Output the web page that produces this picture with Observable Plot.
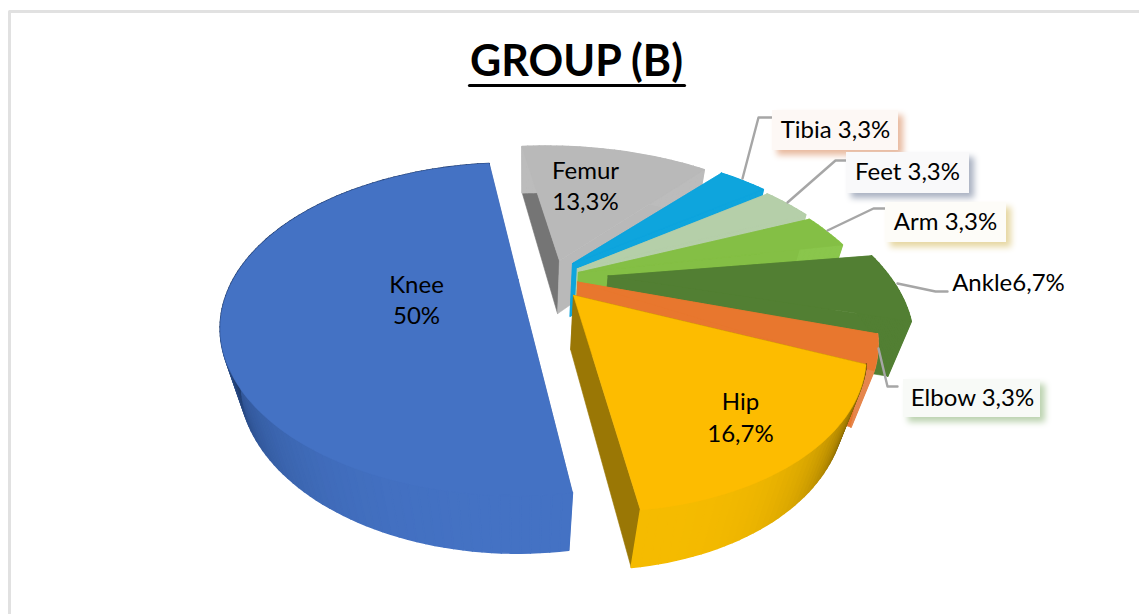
<!DOCTYPE html>
<html><head><meta charset="utf-8">
<script src="https://cdn.jsdelivr.net/npm/d3@7"></script>
<script src="https://cdn.jsdelivr.net/npm/@observablehq/plot@0.6"></script>
<style>html,body{margin:0;background:#fff}svg{display:block}</style></head>
<body><div id="chart"></div>
<script>
// ---- data ----
const categories = ["Knee","Femur","Tibia","Feet","Arm","Ankle","Elbow","Hip"];
const shares = [50,13.3,3.3,3.3,3.3,6.7,3.3,16.7];
const shareLabels = ["50%","13,3%","3,3%","3,3%","3,3%","6,7%","3,3%","16,7%"];
const chartTitle = "GROUP (B)";

// ---- layout / style (not data) ----
const startAngle = 172.012;
const explodeX = [-.1038,.0419,.0875,.1027,.1052,.2069,.0998,.0810];
const explodeY = [-.0025,.1256,.1076,.0723,.0480,.0270,-.0141,-.0957];
const radius   = [.9651,1.0280,1.0310,1.0199,1.0141,.9829,.9648,.9218];
const twist    = [-.35,.07,1.62,1.57,2.25,5.21,7.21,.92];
const cam = {a:294.52,b:161.92,c:-31.948,d:547.96,e:3.8665,f:-71.012,j:-74.08,k:279.11,g:.0045264,h:.3076,i:-.060813};
const topColor = ["#4472c4","#b9b9b9","#0ea5dd","#b5cfa9","#84bf45","#527f33","#e8772e","#fdbc00"];
const sideColor= ["#4472c4","#bcbcbc","#0ea5dd","#b5cfa9","#8ac64c","#527f33","#e6864c","#f3b700"];
const leftColor= ["#3a62a8","#757575","#0ea5dd","#b5cfa9","#84bf45","#527f33","#e8772e","#9a7705"];
const plainLabels = [
 {i:0,x:416,y:[285,316]},
 {i:1,x:585,y:[171,202]},
 {i:7,x:740,y:[402,434]}];
const boxes = [
 {i:2,x1:772,x2:898,y1:110,y2:150,fill:"#fdf8f5",shadow:"#e8b99e",tx:835,ty:130,sep:" ",lead:[[742,178],[758,117],[771,117]]},
 {i:3,x1:846,x2:969,y1:152,y2:193,fill:"#f9f9fa",shadow:"#aab2c2",tx:907,ty:172,sep:" ",lead:[[787,202],[835,160],[846,160]]},
 {i:4,x1:885,x2:1006,y1:202,y2:242,fill:"#fdfcf8",shadow:"#e6d7a2",tx:945,ty:222,sep:" ",lead:[[827,230],[873,208],[885,208]]},
 {i:5,x1:null,tx:1008,ty:283,sep:"",lead:[[897,283],[935,291],[947,291]]},
 {i:6,x1:903,x2:1040,y1:379,y2:417,fill:"#f8faf7",shadow:"#bcd3b0",tx:972,ty:398,sep:" ",lead:[[878,348],[887,386],[897,386]]}];
const font = "Lato, 'Open Sans', sans-serif";

// ---- geometry: values -> angles -> projected polygons ----
const pie = d3.pie().sort(null).startAngle(startAngle*Math.PI/180).endAngle((startAngle+360)*Math.PI/180)(shares);
const proj=(X,Y,Z)=>{const w=cam.g*X+cam.h*Y+cam.i*Z+1;return {x:(cam.a*X+cam.b*Y+cam.c*Z+cam.d)/w,y:(cam.e*X+cam.f*Y+cam.j*Z+cam.k)/w}};
const geom = pie.map((s,i)=>{
  const ox=explodeX[i], oy=explodeY[i], r=radius[i], tw=twist[i]*Math.PI/180;
  const P=(th,Z)=>proj(ox+r*Math.sin(th+tw),oy+r*Math.cos(th+tw),Z);
  const n=Math.max(6,Math.round((s.endAngle-s.startAngle)*180/Math.PI/1.5));
  const ths=d3.range(n+1).map(k=>s.startAngle+(s.endAngle-s.startAngle)*k/n);
  return {i,apexT:proj(ox,oy,0),apexB:proj(ox,oy,-1),P,ths,n};
});
const poly=(pts,fill,sw=.6)=>Plot.line([...pts,pts[0]],{x:"x",y:"y",fill,stroke:fill,strokeWidth:sw,curve:"linear"});
function sliceMarks(g){
  const {i,P,ths,n,apexT,apexB}=g, marks=[];
  const a0=ths[0],a1=ths[n];
  marks.push(poly([apexT,P(a0,0),P(a0,-1),apexB],leftColor[i]));
  marks.push(poly([apexT,P(a1,0),P(a1,-1),apexB],i==7||i==0?leftColor[i]:topColor[i]));
  for(let k=0;k<n;k++){
    const u=k/n;let c=sideColor[i];
    if(i==0){const t=Math.min(1,u/.45); c=d3.interpolateRgb("#4472c4","#1c3766")(t*t*t);}
    if(i==7){const t=1-u; c=d3.interpolateRgb("#f5bb00","#3f3000")(t*t*t);}
    marks.push(poly([P(ths[k],0),P(ths[k+1],0),P(ths[k+1],-1),P(ths[k],-1)],c,1.6));
  }
  marks.push(poly([apexT,...ths.map(t=>P(t,0))],topColor[i]));
  return marks;
}
const order=[1,2,3,4,5,6,7,0];
const titleMark = Plot.text([chartTitle],{x:()=>576,y:()=>62,text:d=>d,fontSize:43,fontWeight:700,fontFamily:font,fill:"#000"});
const titleRule = Plot.line([{x:469,y:85},{x:684,y:85}],{x:"x",y:"y",stroke:"#000",strokeWidth:3.2,curve:"linear"});
const txt=(t,x,y)=>Plot.text([t],{x:()=>x,y:()=>y,text:d=>d,fontSize:24,fontFamily:font,fill:"#000"});
const frame = Plot.line([{x:1139,y:11},{x:9,y:11},{x:9,y:614}],{x:"x",y:"y",stroke:"#e1e1e1",strokeWidth:3,curve:"linear"});
const boxMarks = boxes.flatMap(b=>{
  const lead = Plot.line(b.lead.map(([x,y])=>({x,y})),{x:"x",y:"y",stroke:"#a6a6a6",strokeWidth:2.4,curve:"linear"});
  const label = `${categories[b.i]}${b.sep}${shareLabels[b.i]}`;
  const out=[lead];
  if(b.x1!==null) out.push(Plot.rect([b],{x1:"x1",x2:"x2",y1:"y1",y2:"y2",fill:"fill",imageFilter:`drop-shadow(5px 5px 3px ${b.shadow})`}));
  out.push(txt(label,b.tx,b.ty));
  return out;
});
const chart = Plot.plot({
  width:1139,height:614,margin:0,
  x:{type:"linear",domain:[0,1139],range:[0,1139],axis:null},
  y:{type:"linear",domain:[0,614],range:[0,614],axis:null},
  color:{type:"identity"},
  style:{background:"#fff"},
  marks:[frame,titleMark,titleRule,...order.flatMap(i=>sliceMarks(geom[i])),...boxMarks,
    ...plainLabels.flatMap(l=>[txt(categories[l.i],l.x,l.y[0]),txt(shareLabels[l.i],l.x,l.y[1])])]
});
document.getElementById("chart").append(chart);
</script></body></html>
